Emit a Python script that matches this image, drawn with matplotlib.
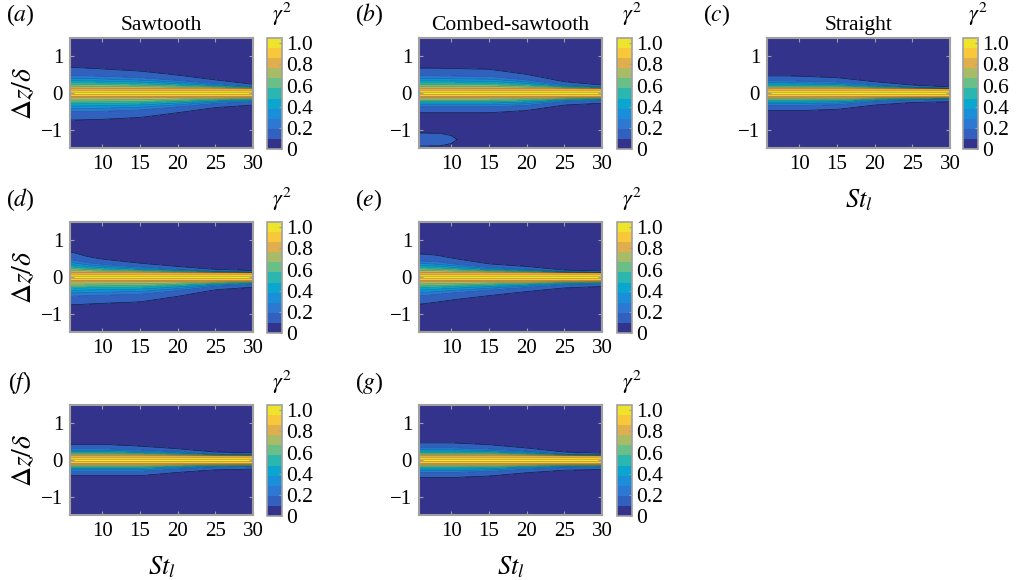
import numpy as np
import matplotlib
matplotlib.use("Agg")
import matplotlib.pyplot as plt

plt.rcParams['font.family'] = ['Liberation Serif', 'DejaVu Serif']
plt.rcParams['mathtext.fontset'] = 'stix'

st_pts = [6, 8, 10, 15, 20, 25, 30]

# upper / lower edge of the outermost contour, per panel (in dz/delta)
upper_a = [0.68, 0.66, 0.64, 0.58, 0.47, 0.34, 0.22]
lower_a = [-0.72, -0.71, -0.70, -0.65, -0.52, -0.38, -0.31]
upper_b = [0.66, 0.66, 0.65, 0.63, 0.49, 0.29, 0.20]
lower_b = [-0.52, -0.52, -0.52, -0.52, -0.46, -0.31, -0.26]
upper_c = [0.45, 0.45, 0.44, 0.40, 0.29, 0.20, 0.15]
lower_c = [-0.46, -0.46, -0.46, -0.43, -0.31, -0.24, -0.22]
upper_d = [0.66, 0.54, 0.47, 0.36, 0.27, 0.19, 0.16]
lower_d = [-0.74, -0.72, -0.70, -0.66, -0.51, -0.33, -0.26]
upper_e = [0.61, 0.58, 0.50, 0.34, 0.27, 0.17, 0.15]
lower_e = [-0.72, -0.67, -0.61, -0.49, -0.38, -0.28, -0.24]
upper_f = [0.41, 0.41, 0.41, 0.36, 0.29, 0.20, 0.18]
lower_f = [-0.41, -0.41, -0.41, -0.41, -0.32, -0.25, -0.23]
upper_g = [0.45, 0.45, 0.45, 0.40, 0.31, 0.20, 0.17]
lower_g = [-0.46, -0.46, -0.46, -0.42, -0.33, -0.26, -0.24]

# shape of the coherence profile across dz
profile_levels = [1.0, 0.9, 0.8, 0.7, 0.6, 0.5, 0.4, 0.3, 0.2, 0.1, 0.0]
core_pos = [0.0, 0.04, 0.11]                       # for 1.0, 0.9, 0.8
outer_frac = [0.1, 0.2, 0.28, 0.38, 0.5, 0.62, 1.0]  # for 0.7 ... 0.1
tail_extra = 0.4                                   # where it reaches 0

# isolated weak patch at the lower left of panel (b)
blob_st = [5.7, 8.5, 10.0, 10.8]
blob_half = [0.18, 0.17, 0.11, 0.0]
blob_mid = -1.27
blob_val = 0.15

panels = [
    ('a', 'Sawtooth', upper_a, lower_a, 0, 0),
    ('b', 'Combed-sawtooth', upper_b, lower_b, 0, 1),
    ('c', 'Straight', upper_c, lower_c, 0, 2),
    ('d', None, upper_d, lower_d, 1, 0),
    ('e', None, upper_e, lower_e, 1, 1),
    ('f', None, upper_f, lower_f, 2, 0),
    ('g', None, upper_g, lower_g, 2, 1),
]

band_colors = ['#33338C', '#3160BE', '#2C78D2', '#1A8ED8', '#0AA6CF', '#2BB7B0',
               '#68BF88', '#A8BC68', '#E0AE4C', '#F8C83A', '#EEE42C']
levels = np.linspace(0, 1.05, 12)

st = np.linspace(5.7, 30, 260)
dz = np.linspace(-1.5, 1.5, 601)


def smooth(v, n=13):
    pad = np.pad(v, n // 2, mode='edge')
    return np.convolve(pad, np.ones(n) / n, mode='valid')


def build_field(up, lo, blob=False):
    wu = smooth(np.interp(st, st_pts, up))
    wl = smooth(np.abs(np.interp(st, st_pts, lo)))
    Z = np.zeros((dz.size, st.size))
    for j in range(st.size):
        for w, mask in ((wu[j], dz >= 0), (wl[j], dz < 0)):
            c = core_pos[-1]
            pos = core_pos + [c + f * (w - c) for f in outer_frac] + [w + tail_extra]
            Z[mask, j] = np.interp(np.abs(dz[mask]), pos, profile_levels)
    if blob:
        half = np.interp(st, blob_st, blob_half)
        half[st > blob_st[-1]] = 0
        inside = np.abs(dz[:, None] - blob_mid) < half[None, :]
        Z[inside] = np.maximum(Z[inside], blob_val)
    return Z


fig = plt.figure(figsize=(10.24, 5.8), dpi=100)
W, H = 1024.0, 580.0
col_x = [70, 419, 767]
cb_x = [267, 617, 963]
row_top = [38, 222, 405]
ax_w, ax_h = 183, 110
grey = '#a0a0a0'

for tag, title, up, lo, r, c in panels:
    ax = fig.add_axes([col_x[c] / W, 1 - (row_top[r] + ax_h) / H, ax_w / W, ax_h / H])
    Z = build_field(up, lo, blob=(tag == 'b'))
    cf = ax.contourf(st, dz, Z, levels=levels, colors=band_colors)
    ax.contour(st, dz, Z, levels=levels[1:2], colors='k', linewidths=0.5, alpha=0.7)
    ax.contour(st, dz, Z, levels=levels[2:-1], colors='k', linewidths=0.4, alpha=0.3)
    ax.set_xlim(5.7, 30)
    ax.set_ylim(-1.5, 1.5)
    ax.set_xticks([10, 15, 20, 25, 30])
    ax.set_yticks([-1, 0, 1])
    ax.tick_params(direction='in', top=True, right=True, length=3, color=grey,
                   labelsize=15, pad=5)
    for s in ax.spines.values():
        s.set_color(grey)
        s.set_linewidth(1.5)
    if c == 0:
        ax.set_ylabel(r'$\Delta z/\delta$', fontsize=20, labelpad=3)
    if (r, c) in [(0, 2), (2, 0), (2, 1)]:
        ax.set_xlabel(r'$St_l$', fontsize=19, labelpad=10)
    if title:
        ax.set_title(title, fontsize=15.5, pad=6)

    cax = fig.add_axes([cb_x[c] / W, 1 - (row_top[r] + ax_h + 1) / H, 15 / W, (ax_h + 1) / H])
    cb = fig.colorbar(cf, cax=cax, ticks=[0, 0.2, 0.4, 0.6, 0.8, 1.0])
    cb.ax.set_yticklabels(['0', '0.2', '0.4', '0.6', '0.8', '1.0'])
    cb.ax.tick_params(direction='in', length=2, color=grey, labelsize=15.5, pad=3)
    cb.outline.set_edgecolor(grey)
    cb.outline.set_linewidth(1.2)

    lab_y = row_top[r] - 22 if r > 0 else 15
    fig.text((col_x[c] - 50) / W, 1 - lab_y / H, '($%s$)' % tag, fontsize=17,
             ha='center', va='center')
    fig.text((cb_x[c] + 15) / W, 1 - (lab_y - 1) / H, r'$\gamma^2$', fontsize=16,
             ha='center', va='center')

fig.savefig('out.png', dpi=100)
